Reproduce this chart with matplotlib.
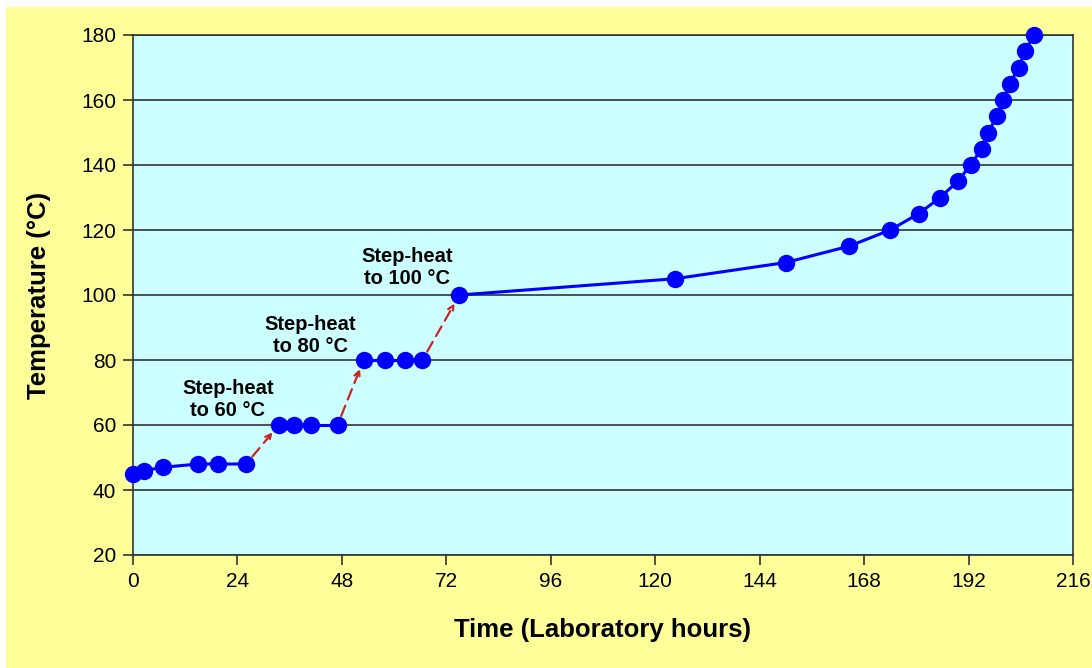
import matplotlib.pyplot as plt

plt.rcParams['font.family'] = ['Liberation Sans', 'DejaVu Sans']

# stage data (hours, deg C)
t_hold45 = [0, 2.5, 7, 15, 19.5, 26]
T_hold45 = [45, 46, 47, 48, 48, 48]
t_hold60 = [33.5, 37, 41, 47]
T_hold60 = [60, 60, 60, 60]
t_hold80 = [53, 58, 62.5, 66.5]
T_hold80 = [80, 80, 80, 80]
t_ramp = [75, 124.5, 150, 164.5, 174, 180.5, 185.5, 189.5, 192.5, 195, 196.5,
          198.5, 200, 201.5, 203.5, 205, 207]
T_ramp = [100, 105, 110, 115, 120, 125, 130, 135, 140, 145, 150,
          155, 160, 165, 170, 175, 180]

steps = [((26, 48), (33.5, 60)), ((47, 60), (53, 80)), ((66.5, 80), (75, 100))]
notes = ["Step-heat\nto 60 \u00b0C", "Step-heat\nto 80 \u00b0C", "Step-heat\nto 100 \u00b0C"]
note_pos = [(21.8, 67.7), (40.7, 87.4), (63, 108.6)]

fig = plt.figure(figsize=(10.92, 6.68), dpi=100)
fig.patch.set_facecolor('white')
fig.patches.append(plt.Rectangle((6 / 1092, 0), 1, 1 - 7 / 668, transform=fig.transFigure,
                                 facecolor='#FFFF99', edgecolor='none', zorder=-10))
ax = fig.add_axes([133 / 1092, 1 - 555 / 668, 940 / 1092, 520 / 668])
ax.set_facecolor('#CCFFFF')

for t, T in [(t_hold45, T_hold45), (t_hold60, T_hold60), (t_hold80, T_hold80), (t_ramp, T_ramp)]:
    ax.plot(t, T, color='#0000FF', lw=2.2, marker='o', ms=11.5, zorder=3, clip_on=False)

for (a, b) in steps:
    ax.annotate('', xy=b, xytext=a,
                arrowprops=dict(arrowstyle='->', color='#CC2222', lw=1.6, ls=(0, (5, 3)),
                                shrinkA=7, shrinkB=7), zorder=2)

for txt, (x, y) in zip(notes, note_pos):
    ax.text(x, y, txt, ha='center', va='center', fontsize=14.5, fontweight='bold',
            linespacing=1.2)

ax.set_xlim(0, 216)
ax.set_ylim(20, 180)
ax.set_xticks(range(0, 217, 24))
ax.set_yticks(range(20, 181, 20))
ax.grid(axis='y', color='#333333', lw=1.2)
ax.set_axisbelow(True)
for s in ax.spines.values():
    s.set_color('#333333')
    s.set_linewidth(1.2)
ax.tick_params(labelsize=15, length=7, width=1.2, color='#333333', pad=5)
ax.set_xlabel('Time (Laboratory hours)', fontsize=18.5, fontweight='bold', labelpad=20)
ax.set_ylabel('Temperature (\u00b0C)', fontsize=18.5, fontweight='bold', labelpad=22)

plt.savefig('out.png', dpi=100, facecolor=fig.get_facecolor())
